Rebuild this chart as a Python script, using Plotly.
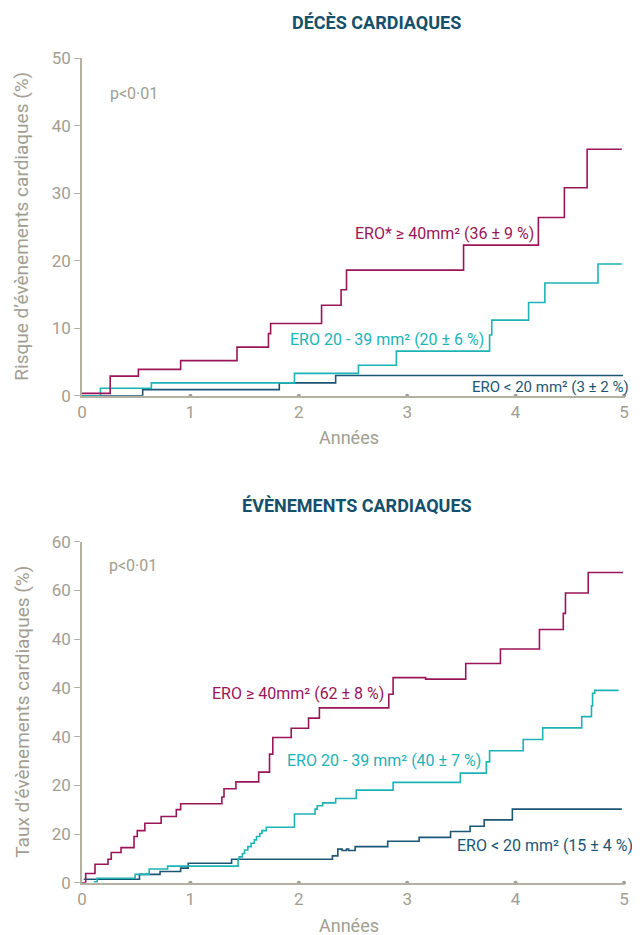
import plotly.graph_objects as go

# ---------------- data ----------------
# Top panel: DÉCÈS CARDIAQUES (years, %)
deces_sev_x = [0, 0.26, 0.52, 0.91, 1.43, 1.72, 1.74, 2.21, 2.39, 2.44, 3.52, 4.21, 4.45, 4.66, 4.98]
deces_sev_y = [0.35, 2.9, 3.9, 5.2, 7.2, 9.2, 10.7, 13.4, 15.7, 18.6, 22.3, 26.4, 30.8, 36.5, 36.5]
deces_mod_x = [0, 0.17, 0.64, 1.96, 2.55, 2.90, 3.76, 3.78, 4.12, 4.27, 4.76, 4.98]
deces_mod_y = [0, 1.1, 1.9, 3.3, 4.5, 6.6, 9.0, 11.2, 13.8, 16.7, 19.5, 19.5]
deces_low_x = [0, 0.56, 1.82, 2.34, 4.99]
deces_low_y = [0, 0.9, 1.9, 3.0, 3.0]

# Bottom panel: ÉVÈNEMENTS CARDIAQUES (years, %)
ev_sev_x = [0, 0.034, 0.12, 0.24, 0.27, 0.36, 0.48, 0.51, 0.58, 0.73, 0.87, 0.91, 1.29, 1.31, 1.42,
            1.63, 1.73, 1.76, 1.93, 2.09, 2.19, 2.83, 2.87, 3.17, 3.54, 3.86, 4.22, 4.44, 4.46, 4.67, 4.99]
ev_sev_y = [0, 1.9, 3.8, 4.8, 6.2, 7.2, 9.5, 10.7, 12.2, 13.6, 15.0, 16.2, 17.6, 19.3, 20.7,
            22.7, 26.4, 29.8, 31.7, 33.8, 35.9, 38.7, 42.1, 41.8, 45.0, 48.0, 52.0, 55.3, 59.5, 63.7, 63.7]
ev_mod_x = [0.108, 0.14, 0.49, 0.62, 0.79, 1.44, 1.45, 1.48, 1.50, 1.53, 1.56, 1.59, 1.61, 1.64, 1.66,
            1.70, 1.96, 2.15, 2.17, 2.22, 2.34, 2.53, 2.87, 3.49, 3.73, 3.76, 4.07, 4.25, 4.61, 4.70,
            4.71, 4.73, 4.95]
ev_mod_y = [0.2, 0.9, 1.7, 2.8, 3.4, 4.8, 5.3, 6.0, 6.7, 7.4, 8.1, 8.8, 9.5, 10.1, 10.7,
            11.4, 14.1, 15.1, 15.8, 16.4, 17.3, 19.0, 20.6, 22.5, 24.8, 27.1, 29.4, 31.8, 34.1, 36.3,
            38.9, 39.5, 39.5]
ev_low_x = [0.016, 0.53, 0.72, 0.91, 0.98, 1.38, 2.31, 2.36, 2.40, 2.44, 2.46, 2.52, 2.82, 3.11,
            3.40, 3.58, 3.71, 3.97, 4.98]
ev_low_y = [0.7, 1.7, 2.3, 3.0, 4.0, 4.8, 5.5, 6.9, 6.6, 6.9, 6.6, 7.4, 8.5, 9.3,
            10.5, 11.6, 12.9, 15.1, 15.1]

x_ticks = [0, 1, 2, 3, 4, 5]
x_dots = [1, 2, 3, 4, 5]
top_y_ticks = [0, 10, 20, 30, 40, 50]
bot_y_ticks = [0, 10, 20, 30, 40, 50, 60, 70]
bot_y_ticktext = ["0", "20", "20", "40", "40", "40", "60", "60"]

titles = ["DÉCÈS CARDIAQUES", "ÉVÈNEMENTS CARDIAQUES"]
y_titles = ["Risque d’évènements cardiaques (%)", "Taux d’évènements cardiaques (%)"]
x_title = "Années"
p_text = "p<0·01"
top_labels = ["ERO* ≥ 40mm² (36 ± 9 %)", "ERO 20 - 39 mm² (20 ± 6 %)", "ERO < 20 mm² (3 ± 2 %)"]
bot_labels = ["ERO ≥ 40mm² (62 ± 8 %)", "ERO 20 - 39 mm² (40 ± 7 %)", "ERO < 20 mm² (15 ± 4 %)"]

# ---------------- style ----------------
RED = "#9a1458"
CYAN = "#1bb3b5"
DARK = "#1b5674"
AXIS = "#b4b1a3"
GREY = "#a19e91"
TITLE = "#14506a"
FONT = "Roboto, Open Sans, sans-serif"

OFF = 8                     # page body margin offset
W, H = 640 - OFF, 935 - OFF
L_PX, R_PX = 82.3, 624.3    # page x of year 0 and year 5


def py(p):                  # page y -> paper y
    return 1 - (p - OFF) / H


top_dom = [py(395.7), py(58.2)]
bot_dom = [py(882.7), py(541.8)]

fig = go.Figure()


def add_curve(x, y, color, xa, ya):
    fig.add_trace(go.Scatter(x=x, y=y, mode="lines", line=dict(color=color, width=1.6, shape="hv"),
                             xaxis=xa, yaxis=ya, showlegend=False, hoverinfo="skip"))


add_curve(deces_low_x, deces_low_y, DARK, "x", "y")
add_curve(deces_mod_x, deces_mod_y, CYAN, "x", "y")
add_curve(deces_sev_x, deces_sev_y, RED, "x", "y")
add_curve(ev_low_x, ev_low_y, DARK, "x2", "y2")
add_curve(ev_mod_x, ev_mod_y, CYAN, "x2", "y2")
add_curve(ev_sev_x, ev_sev_y, RED, "x2", "y2")

for xa, ya in (("x", "y"), ("x2", "y2")):
    fig.add_trace(go.Scatter(x=x_dots, y=[0] * len(x_dots), mode="markers",
                             marker=dict(color=GREY, size=4), cliponaxis=False,
                             xaxis=xa, yaxis=ya, showlegend=False, hoverinfo="skip"))

xcommon = dict(range=[0, 5], tickvals=x_ticks, showgrid=False, zeroline=False,
               showline=True, linecolor=AXIS, linewidth=1.5, ticks="",
               tickfont=dict(family=FONT, size=17, color=GREY), automargin=False)
ycommon = dict(showgrid=False, zeroline=False, showline=True, linecolor=AXIS, linewidth=1.5,
               ticks="outside", ticklen=6, tickcolor=AXIS, tickwidth=1,
               tickfont=dict(family=FONT, size=17, color=GREY), automargin=False)

fig.update_layout(
    width=W, height=H,
    margin=dict(l=L_PX - OFF, r=W - (R_PX - OFF), t=0, b=0),
    paper_bgcolor="white", plot_bgcolor="white",
    template="none",
    showlegend=False,
    xaxis=dict(domain=[0, 1], anchor="y", **xcommon),
    yaxis=dict(domain=top_dom, anchor="x", range=[0, 50], tickvals=top_y_ticks, **ycommon),
    xaxis2=dict(domain=[0, 1], anchor="y2", **xcommon),
    yaxis2=dict(domain=bot_dom, anchor="x2", range=[0, 70], tickvals=bot_y_ticks,
                ticktext=bot_y_ticktext, **ycommon),
)

anns = []


def ann_px(text, x, y, size, color, angle=0, xanchor="center", bold=False):
    t = f"<b>{text}</b>" if bold else text
    anns.append(dict(text=t, x=(x - L_PX) / (R_PX - L_PX), y=py(y), xref="paper", yref="paper",
                     showarrow=False, textangle=angle, xanchor=xanchor, yanchor="middle",
                     font=dict(family=FONT, size=size, color=color)))


ann_px(titles[0], 377, 22, 18, TITLE, bold=True)
ann_px(titles[1], 357, 505, 18, TITLE, bold=True)
ann_px(y_titles[0], 22, 226, 19, GREY, angle=-90)
ann_px(y_titles[1], 22, 712, 19, GREY, angle=-90)
ann_px(x_title, 349, 438, 18, GREY)
ann_px(x_title, 349, 925, 18, GREY)
ann_px(p_text, 108, 93, 16, GREY, xanchor="left")
ann_px(p_text, 107, 565, 16, GREY, xanchor="left")

# series labels (top)
ann_px(top_labels[0], 536, 233, 16, RED, xanchor="right")
ann_px(top_labels[1], 486, 339, 16, CYAN, xanchor="right")
ann_px(top_labels[2], 470, 387, 15, DARK, xanchor="left")
# series labels (bottom)
ann_px(bot_labels[0], 386, 693, 16, RED, xanchor="right")
ann_px(bot_labels[1], 483, 760, 16, CYAN, xanchor="right")
ann_px(bot_labels[2], 455, 845, 16, DARK, xanchor="left")

fig.update_layout(annotations=anns)

fig.write_html("out.html")
